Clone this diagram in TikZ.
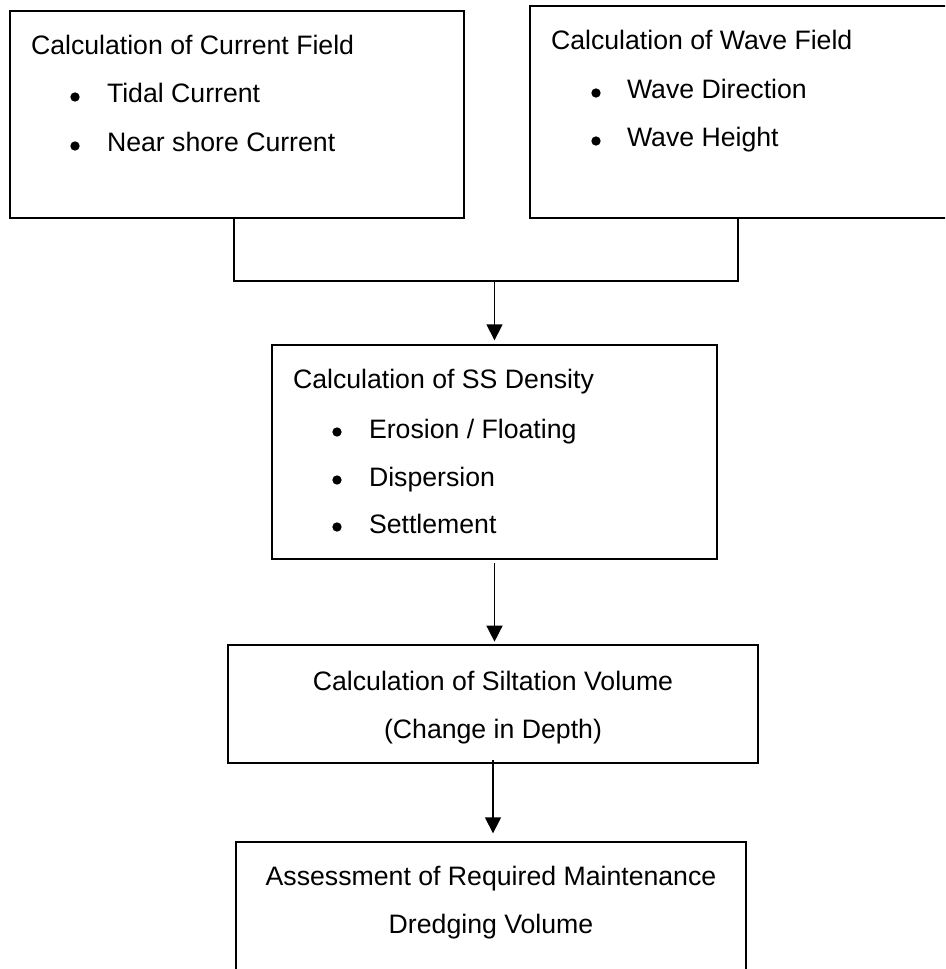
\documentclass[tikz,border=0pt]{standalone}
\usepackage{fontspec}
\setmainfont{Liberation Sans}
\usetikzlibrary{arrows.meta}
\begin{document}
\begin{tikzpicture}[x=0.75pt,y=-0.75pt,
  box/.style={draw=black,line width=1.1pt,inner sep=0pt,outer sep=0pt,anchor=north west},
  txt/.style={inner sep=0pt,outer sep=0pt,anchor=base west,font=\fontsize{20pt}{24pt}\selectfont},
  ctxt/.style={inner sep=0pt,outer sep=0pt,anchor=base,font=\fontsize{20pt}{24pt}\selectfont},
  bul/.style={circle,fill=black,inner sep=0pt,minimum size=7pt},
  conn/.style={draw=black,line width=1.1pt},
  arr/.style={draw=black,line width=1.1pt,-{Triangle[width=12pt,length=12pt]}}]
\useasboundingbox (0,0) rectangle (945,969);
\clip (0,0) rectangle (945,969);
\fill[white] (0,0) rectangle (945,969);
% boxes
\node[box,minimum width=340.5pt,minimum height=155.25pt] (b1) at (10,11) {};
\node[box,minimum width=330pt,minimum height=159pt] (b2) at (530,6) {};
\node[box,minimum width=333.75pt,minimum height=160.5pt] (b3) at (272,345) {};
\node[box,minimum width=397.5pt,minimum height=88.5pt] (b4) at (228,645) {};
\node[box,minimum width=382.5pt,minimum height=120pt] (b5) at (236,842) {};
% box 1 text
\node[txt] (t1) at (31,55) {Calculation of Current Field};
\node[bul] (t1b1) at (75,97) {};
\node[txt] (t1i1) at (107,103) {Tidal Current};
\node[bul] (t1b2) at (75,146) {};
\node[txt] (t1i2) at (107,152) {Near shore Current};
% box 2 text
\node[txt] (t2) at (551,50) {Calculation of Wave Field};
\node[bul] (t2b1) at (596,93) {};
\node[txt] (t2i1) at (627,99) {Wave Direction};
\node[bul] (t2b2) at (596,141) {};
\node[txt] (t2i2) at (627,147) {Wave Height};
% box 3 text
\node[txt] (t3) at (293,388) {Calculation of SS Density};
\node[bul] (t3b1) at (337,432) {};
\node[txt] (t3i1) at (369,438) {Erosion / Floating};
\node[bul] (t3b2) at (337,480) {};
\node[txt] (t3i2) at (369,486) {Dispersion};
\node[bul] (t3b3) at (337,527) {};
\node[txt] (t3i3) at (369,533) {Settlement};
% box 4 text
\node[ctxt] (t4a) at (493,690) {Calculation of Siltation Volume};
\node[ctxt] (t4b) at (493,738) {(Change in Depth)};
% box 5 text
\node[ctxt] (t5a) at (491,885) {Assessment of Required Maintenance};
\node[ctxt] (t5b) at (491,933) {Dredging Volume};
% connectors
\coordinate (j1) at (234,281);
\coordinate (j2) at (738,281);
\draw[conn] (b1.south -| j1) -- (j1) -- (j2) -- (b2.south -| j2);
\draw[arr,shorten >=3.5pt] (b3.north |- j1) -- (b3.north);
\draw[arr,shorten <=3pt,shorten >=2.5pt] (b3.south) -- (b3.south |- b4.north);
\draw[arr,shorten <=-2pt,shorten >=6.5pt] (b4.south) -- (b4.south |- b5.north);
\end{tikzpicture}
\end{document}
